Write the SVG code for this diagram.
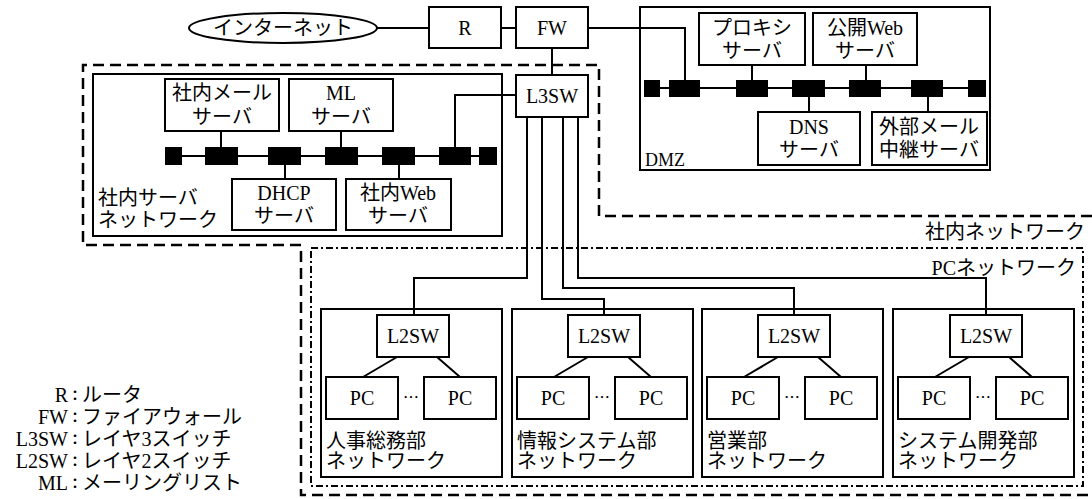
<svg xmlns="http://www.w3.org/2000/svg" width="1092" height="499" viewBox="0 0 1092 499">
<style>
.box{fill:#fff;stroke:#000;stroke-width:2}
.grp{fill:none;stroke:#000;stroke-width:2}
.ln{fill:none;stroke:#000;stroke-width:2}
.dash{fill:none;stroke:#000;stroke-width:2.5;stroke-dasharray:11 6}
.dd{fill:none;stroke:#000;stroke-width:2;stroke-dasharray:7 3 2 3}
.sq{fill:#000}
text{font-family:"Liberation Serif","Noto Sans CJK JP",serif;font-size:20px;fill:#000}
.c{text-anchor:middle;dominant-baseline:central}
.l{text-anchor:start;dominant-baseline:central}
.r{text-anchor:end;dominant-baseline:central}
.colon{font-size:14px;font-weight:bold}
</style>
<rect width="1092" height="499" fill="#fff"/>

<!-- network boundaries -->
<g id="boundaries">
<path class="dash" d="M1092 216 H599 V65 H83 V245 H301 V495 H1092"/>
<rect class="dd" x="311" y="248" width="772" height="238"/>
<text class="r" x="1085" y="232">社内ネットワーク</text>
<text class="r" x="1076" y="268">PCネットワーク</text>
</g>

<!-- connectors -->
<g id="connectors">
<line class="ln" x1="377" y1="28" x2="429" y2="28"/>
<line class="ln" x1="501" y1="28" x2="516" y2="28"/>
<line class="ln" x1="552" y1="48" x2="552" y2="75"/>
<path class="ln" d="M588 28 H685 V80"/>
<path class="ln" d="M516 95 H455 V147"/>
<path class="ln" d="M527 117 V278 H414 V315"/>
<path class="ln" d="M542 117 V299 H604 V315"/>
<path class="ln" d="M563 117 V288 H794 V315"/>
<path class="ln" d="M578 117 V278 H986 V315"/>
</g>

<g id="internet">
<ellipse class="box" cx="283" cy="28" rx="94" ry="15"/>
<text class="c" x="283" y="28">インターネット</text>
</g>
<g id="R"><rect class="box" x="429" y="7" width="72" height="41"/><text class="c" x="465" y="28">R</text></g>
<g id="FW"><rect class="box" x="516" y="7" width="72" height="41"/><text class="c" x="552" y="28">FW</text></g>
<g id="L3SW"><rect class="box" x="516" y="75" width="72" height="42"/><text class="c" x="552" y="96">L3SW</text></g>

<!-- internal server network -->
<g id="server-net">
<rect class="grp" x="93" y="74" width="409" height="162"/>
<line class="ln" x1="165" y1="156" x2="497" y2="156"/>
<rect class="sq" x="165" y="147" width="17" height="18"/>
<rect class="sq" x="205" y="147" width="33" height="18"/>
<rect class="sq" x="268" y="147" width="33" height="18"/>
<rect class="sq" x="325" y="147" width="33" height="18"/>
<rect class="sq" x="382" y="147" width="33" height="18"/>
<rect class="sq" x="439" y="147" width="32" height="18"/>
<rect class="sq" x="479" y="147" width="18" height="18"/>
<line class="ln" x1="221" y1="131" x2="221" y2="147"/>
<line class="ln" x1="341" y1="131" x2="341" y2="147"/>
<line class="ln" x1="285" y1="165" x2="285" y2="179"/>
<line class="ln" x1="399" y1="165" x2="399" y2="179"/>
<text class="l" x="98" y="198">社内サーバ</text>
<text class="l" x="98" y="220">ネットワーク</text>
</g>
<g id="mail-server"><rect class="box" x="165" y="79" width="114" height="52"/><text class="c" x="222" y="93">社内メール</text><text class="c" x="222" y="117">サーバ</text></g>
<g id="ml-server"><rect class="box" x="289" y="79" width="104" height="52"/><text class="c" x="341" y="93">ML</text><text class="c" x="341" y="117">サーバ</text></g>
<g id="dhcp-server"><rect class="box" x="232" y="179" width="104" height="51"/><text class="c" x="284" y="193">DHCP</text><text class="c" x="284" y="216">サーバ</text></g>
<g id="inweb-server"><rect class="box" x="346" y="179" width="105" height="51"/><text class="c" x="398" y="193">社内Web</text><text class="c" x="398" y="216">サーバ</text></g>

<!-- DMZ -->
<g id="dmz">
<rect class="grp" x="640" y="7" width="350" height="163"/>
<line class="ln" x1="644" y1="88" x2="986" y2="88"/>
<rect class="sq" x="644" y="80" width="16" height="17"/>
<rect class="sq" x="669" y="80" width="31" height="17"/>
<rect class="sq" x="736" y="80" width="32" height="17"/>
<rect class="sq" x="792" y="80" width="33" height="17"/>
<rect class="sq" x="849" y="80" width="32" height="17"/>
<rect class="sq" x="911" y="80" width="32" height="17"/>
<rect class="sq" x="968" y="80" width="18" height="17"/>
<line class="ln" x1="752" y1="65" x2="752" y2="80"/>
<line class="ln" x1="866" y1="65" x2="866" y2="80"/>
<line class="ln" x1="809" y1="97" x2="809" y2="112"/>
<line class="ln" x1="928" y1="97" x2="928" y2="112"/>
<text class="l" x="645" y="160" style="font-size:18px">DMZ</text>
</g>
<g id="proxy-server"><rect class="box" x="699" y="13" width="106" height="52"/><text class="c" x="752" y="28">プロキシ</text><text class="c" x="752" y="51">サーバ</text></g>
<g id="pubweb-server"><rect class="box" x="813" y="13" width="104" height="52"/><text class="c" x="865" y="28">公開Web</text><text class="c" x="865" y="51">サーバ</text></g>
<g id="dns-server"><rect class="box" x="758" y="112" width="102" height="53"/><text class="c" x="809" y="127">DNS</text><text class="c" x="809" y="150">サーバ</text></g>
<g id="extmail-server"><rect class="box" x="872" y="112" width="115" height="53"/><text class="c" x="929" y="127">外部メール</text><text class="c" x="929" y="150">中継サーバ</text></g>

<!-- departments -->
<g id="dept-hr">
<rect class="grp" x="321" y="309" width="181" height="168"/>
<path class="ln" d="M397 357 L363 377 M437 357 L460 377"/>
<rect class="box" x="377" y="315" width="72" height="42"/><text class="c" x="413" y="336">L2SW</text>
<rect class="box" x="326" y="377" width="72" height="42"/><text class="c" x="362" y="398">PC</text>
<rect class="box" x="424" y="377" width="72" height="42"/><text class="c" x="460" y="398">PC</text>
<text class="c" x="411" y="397" style="font-size:16px">⋯</text>
<text class="l" x="326" y="441">人事総務部</text><text class="l" x="326" y="461">ネットワーク</text>
</g>
<g id="dept-is">
<rect class="grp" x="512" y="309" width="181" height="168"/>
<path class="ln" d="M588 357 L554 377 M628 357 L651 377"/>
<rect class="box" x="568" y="315" width="72" height="42"/><text class="c" x="604" y="336">L2SW</text>
<rect class="box" x="517" y="377" width="72" height="42"/><text class="c" x="553" y="398">PC</text>
<rect class="box" x="615" y="377" width="72" height="42"/><text class="c" x="651" y="398">PC</text>
<text class="c" x="602" y="397" style="font-size:16px">⋯</text>
<text class="l" x="517" y="441">情報システム部</text><text class="l" x="517" y="461">ネットワーク</text>
</g>
<g id="dept-sales">
<rect class="grp" x="702" y="309" width="181" height="168"/>
<path class="ln" d="M778 357 L744 377 M818 357 L841 377"/>
<rect class="box" x="758" y="315" width="72" height="42"/><text class="c" x="794" y="336">L2SW</text>
<rect class="box" x="707" y="377" width="72" height="42"/><text class="c" x="743" y="398">PC</text>
<rect class="box" x="805" y="377" width="72" height="42"/><text class="c" x="841" y="398">PC</text>
<text class="c" x="792" y="397" style="font-size:16px">⋯</text>
<text class="l" x="707" y="441">営業部</text><text class="l" x="707" y="461">ネットワーク</text>
</g>
<g id="dept-dev">
<rect class="grp" x="893" y="309" width="181" height="168"/>
<path class="ln" d="M969 357 L935 377 M1009 357 L1032 377"/>
<rect class="box" x="950" y="315" width="72" height="42"/><text class="c" x="986" y="336">L2SW</text>
<rect class="box" x="898" y="377" width="72" height="42"/><text class="c" x="934" y="398">PC</text>
<rect class="box" x="996" y="377" width="72" height="42"/><text class="c" x="1032" y="398">PC</text>
<text class="c" x="983" y="397" style="font-size:16px">⋯</text>
<text class="l" x="898" y="441">システム開発部</text><text class="l" x="898" y="461">ネットワーク</text>
</g>

<!-- legend -->
<g id="legend">
<text class="l" y="395"><tspan x="68" style="text-anchor:end">R</tspan><tspan x="68" class="colon">：</tspan><tspan x="82">ルータ</tspan></text>
<text class="l" y="417"><tspan x="68" style="text-anchor:end">FW</tspan><tspan x="68" class="colon">：</tspan><tspan x="82">ファイアウォール</tspan></text>
<text class="l" y="439"><tspan x="68" style="text-anchor:end">L3SW</tspan><tspan x="68" class="colon">：</tspan><tspan x="82">レイヤ3スイッチ</tspan></text>
<text class="l" y="461"><tspan x="68" style="text-anchor:end">L2SW</tspan><tspan x="68" class="colon">：</tspan><tspan x="82">レイヤ2スイッチ</tspan></text>
<text class="l" y="483"><tspan x="68" style="text-anchor:end">ML</tspan><tspan x="68" class="colon">：</tspan><tspan x="82">メーリングリスト</tspan></text>
</g>
</svg>
